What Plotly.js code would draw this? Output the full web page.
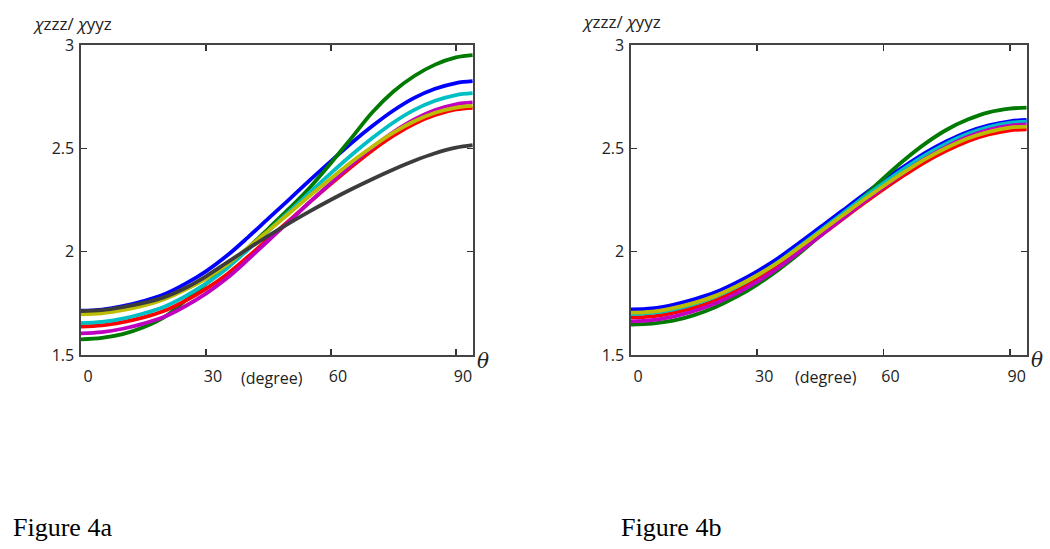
<!DOCTYPE html>
<html>
<head>
<meta charset="utf-8">
<script src="https://cdn.plot.ly/plotly-3.0.1.min.js"></script>
<style>html,body{margin:0;padding:0;background:#fff;}#chart{width:1050px;height:549px;}</style>
</head>
<body>
<div id="chart"></div>
<script>
// angle samples (degree)
const theta = [0, 5, 10, 15, 20, 25, 30, 35, 40, 45, 50, 55, 60, 65, 70, 75, 80, 85, 90, 94];

// Figure 4a series
const a_blue    = [1.714, 1.720, 1.736, 1.761, 1.794, 1.844, 1.905, 1.980, 2.068, 2.161, 2.253, 2.347, 2.438, 2.527, 2.609, 2.683, 2.744, 2.788, 2.816, 2.825];
const a_green   = [1.576, 1.583, 1.601, 1.634, 1.683, 1.762, 1.844, 1.927, 2.016, 2.112, 2.209, 2.312, 2.429, 2.552, 2.676, 2.775, 2.850, 2.905, 2.940, 2.951];
const a_red     = [1.638, 1.643, 1.659, 1.682, 1.714, 1.762, 1.820, 1.890, 1.974, 2.063, 2.151, 2.241, 2.328, 2.412, 2.491, 2.561, 2.619, 2.661, 2.688, 2.696];
const a_cyan    = [1.654, 1.660, 1.676, 1.701, 1.734, 1.784, 1.845, 1.919, 2.008, 2.101, 2.194, 2.288, 2.380, 2.469, 2.551, 2.625, 2.686, 2.730, 2.758, 2.767];
const a_magenta = [1.605, 1.611, 1.627, 1.652, 1.685, 1.736, 1.797, 1.871, 1.960, 2.054, 2.147, 2.242, 2.333, 2.423, 2.505, 2.579, 2.640, 2.685, 2.713, 2.722];
const a_yellow  = [1.697, 1.702, 1.717, 1.739, 1.770, 1.815, 1.870, 1.937, 2.018, 2.102, 2.186, 2.272, 2.354, 2.435, 2.509, 2.576, 2.631, 2.672, 2.697, 2.705];
const a_black   = [1.712, 1.717, 1.732, 1.752, 1.780, 1.824, 1.881, 1.947, 2.013, 2.077, 2.138, 2.196, 2.251, 2.303, 2.352, 2.398, 2.440, 2.476, 2.503, 2.515];

// Figure 4b series
const b_blue    = [1.721, 1.726, 1.743, 1.769, 1.803, 1.850, 1.905, 1.969, 2.043, 2.119, 2.195, 2.272, 2.345, 2.414, 2.479, 2.534, 2.579, 2.611, 2.631, 2.637];
const b_green   = [1.647, 1.652, 1.666, 1.693, 1.731, 1.781, 1.841, 1.912, 1.991, 2.078, 2.167, 2.261, 2.356, 2.445, 2.524, 2.590, 2.639, 2.674, 2.692, 2.697];
const b_red     = [1.682, 1.687, 1.704, 1.729, 1.764, 1.810, 1.865, 1.929, 2.001, 2.077, 2.153, 2.229, 2.302, 2.371, 2.435, 2.489, 2.535, 2.567, 2.587, 2.592];
const b_cyan    = [1.698, 1.704, 1.720, 1.746, 1.782, 1.829, 1.885, 1.950, 2.025, 2.102, 2.180, 2.258, 2.332, 2.403, 2.468, 2.524, 2.570, 2.603, 2.623, 2.629];
const b_magenta = [1.663, 1.669, 1.686, 1.713, 1.749, 1.797, 1.855, 1.921, 1.998, 2.077, 2.157, 2.236, 2.312, 2.384, 2.451, 2.508, 2.556, 2.589, 2.610, 2.616];
const b_yellow  = [1.705, 1.710, 1.727, 1.752, 1.786, 1.832, 1.886, 1.949, 2.021, 2.096, 2.171, 2.246, 2.318, 2.386, 2.449, 2.503, 2.548, 2.580, 2.600, 2.605];

const xTicks = [0, 30, 60, 90];
const xTickText = ['0', '30', '60', '90'];
const yTicks = [1.5, 2, 2.5, 3];
const yTickText = ['1.5', '2', '2.5', '3'];

const COLORS = {blue:'#0000ff', green:'#007a00', red:'#ff0000', cyan:'#00bfc4', magenta:'#c000c0', yellow:'#bdbd00', black:'#3c3c3c'};

function tr(y, color, xa, ya) {
  return {x: theta, y: y, xaxis: xa, yaxis: ya, type: 'scatter', mode: 'lines',
    line: {color: COLORS[color], width: 3.8, shape: 'spline', smoothing: 1}, hoverinfo: 'skip', showlegend: false};
}

const data = [
  tr(a_blue,'blue','x','y'), tr(a_green,'green','x','y'), tr(a_red,'red','x','y'),
  tr(a_cyan,'cyan','x','y'), tr(a_magenta,'magenta','x','y'), tr(a_yellow,'yellow','x','y'),
  tr(a_black,'black','x','y'),
  tr(b_blue,'blue','x2','y2'), tr(b_green,'green','x2','y2'), tr(b_red,'red','x2','y2'),
  tr(b_cyan,'cyan','x2','y2'), tr(b_magenta,'magenta','x2','y2'), tr(b_yellow,'yellow','x2','y2')
];

const W = 1050, H = 549;
const tickFont = {family: 'Open Sans, Liberation Sans, sans-serif', size: 16, color: '#222'};
function xax(l, r, anchor) {
  return {domain: [l / W, r / W], range: [0, 94.1], anchor: anchor,
    tickvals: xTicks, ticktext: xTickText, ticks: 'inside', ticklen: 6, tickwidth: 1.6, tickcolor: '#333',
    showline: true, linecolor: '#444', linewidth: 1.6, mirror: 'ticks', showgrid: false, zeroline: false,
    tickfont: tickFont, ticklabelshift: 7, ticklabelstandoff: 6, fixedrange: true};
}
function yax(anchor) {
  return {domain: [(H - 355) / H, (H - 45) / H], range: [1.5, 3], anchor: anchor,
    tickvals: yTicks, ticktext: yTickText, ticks: 'inside', ticklen: 6, tickwidth: 1.6, tickcolor: '#333',
    showline: true, linecolor: '#444', linewidth: 1.6, mirror: 'ticks', showgrid: false, zeroline: false,
    tickfont: tickFont, ticklabelstandoff: 2, fixedrange: true};
}

const lblFont = {family: 'Open Sans, Liberation Sans, sans-serif', size: 16, color: '#222'};
function ann(text, x, y, font, xanchor) {
  return {text: text, xref: 'paper', yref: 'paper', x: x / W, y: 1 - y / H, showarrow: false,
    xanchor: xanchor || 'left', yanchor: 'middle', font: font};
}
const thetaFont = {family: 'DejaVu Serif, serif', size: 20, color: '#222'};
const capFont = {family: 'Liberation Serif, Times New Roman, serif', size: 26, color: '#000'};
const yTitle = '<i>χ</i>zzz/ <i>χ</i>yyz';
const yTitleFont = {family: 'Open Sans, Liberation Sans, sans-serif', size: 17, color: '#222'};

const layout = {
  width: W, height: H, margin: {l: 0, r: 0, t: 0, b: 0},
  paper_bgcolor: '#fff', plot_bgcolor: '#fff', showlegend: false,
  xaxis: xax(81, 473, 'y'), yaxis: yax('x'),
  xaxis2: xax(631, 1027, 'y2'), yaxis2: yax('x2'),
  annotations: [
    ann(yTitle, 31, 23, yTitleFont), ann(yTitle, 580, 21, yTitleFont),
    ann('<i>θ</i>', 475, 361, thetaFont), ann('<i>θ</i>', 1029, 360, thetaFont),
    ann('(degree)', 239, 378, lblFont), ann('(degree)', 793, 377, lblFont),
    ann('Figure 4a', 11, 527, capFont), ann('Figure 4b', 619, 527, capFont)
  ]
};

Plotly.newPlot('chart', data, layout, {displayModeBar: false, staticPlot: true});
</script>
</body>
</html>
